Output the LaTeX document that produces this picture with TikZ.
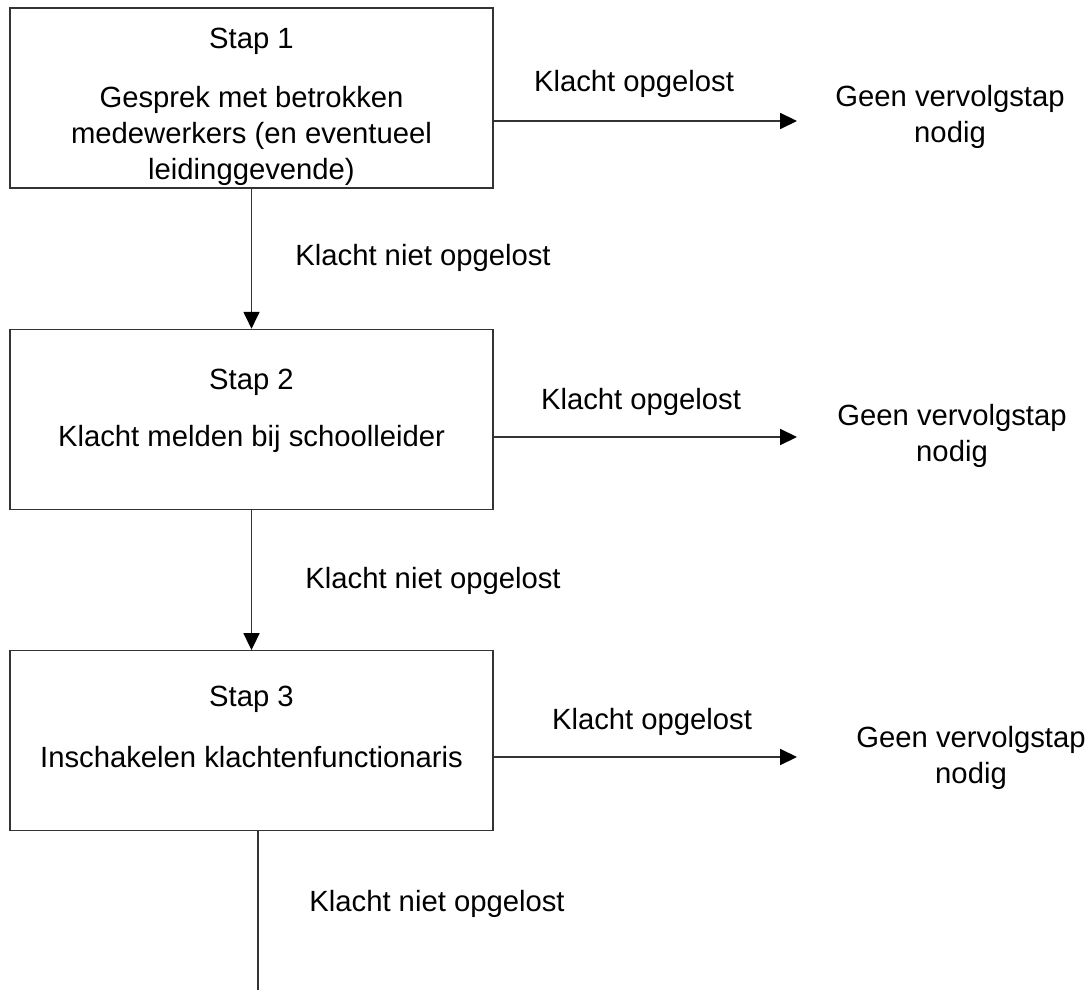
\documentclass[tikz,border=0pt]{standalone}
\usepackage{fontspec}
\setmainfont{Liberation Sans}
\usetikzlibrary{arrows.meta, positioning}
\definecolor{Lijn}{HTML}{333333}
\definecolor{Tekst}{HTML}{000000}

\begin{document}
\begin{tikzpicture}[
          x=0.025cm, y=-0.025cm,
          stapbox/.style={rectangle, draw=Lijn, line width=0.9pt, inner sep=0pt,
                        minimum width=12.075cm, minimum height=4.5cm},
          tekst/.style={font=\fontsize{20.8}{25.6}\selectfont, align=center,
                        inner sep=0pt, text=Tekst},
          arr/.style={-{Triangle[length=0.42cm, width=0.4cm, color=black]}, line width=0.9pt, color=Lijn},
          lijn/.style={line width=0.9pt, color=Lijn},
          node distance=3.5cm
        ]
          \useasboundingbox (0,0) rectangle (1089,990);
          % boxes
          \node[stapbox] (stap1) at (251.5,98) {};
          \node[stapbox, below=of stap1] (stap2) {};
          \node[stapbox, below=of stap2] (stap3) {};
          % box texts
          \node[tekst, anchor=base] (kop1) at (251.5,49) {Stap 1};
          \node[tekst, anchor=north] (oms1) at (251.5,86) {Gesprek met betrokken\\medewerkers (en eventueel\\leidinggevende)};
          \node[tekst, anchor=base] (kop2) at (251.5,389) {Stap 2};
          \node[tekst, anchor=base] (oms2) at (251.5,446) {Klacht melden bij schoolleider};
          \node[tekst, anchor=base] (kop3) at (251.5,706) {Stap 3};
          \node[tekst, anchor=base] (oms3) at (251.5,767) {Inschakelen klachtenfunctionaris};
          % right side
          \coordinate (pijl1) at (797,121);
          \coordinate (pijl2) at (797,437);
          \coordinate (pijl3) at (797,757);
          \node[tekst, anchor=base] (opg1) at (634,92) {Klacht opgelost};
          \node[tekst, anchor=base] (opg2) at (641,409) {Klacht opgelost};
          \node[tekst, anchor=base] (opg3) at (652,729) {Klacht opgelost};
          \node[tekst, anchor=north] (geen1) at (950,85) {Geen vervolgstap\\nodig};
          \node[tekst, anchor=north] (geen2) at (952,404) {Geen vervolgstap\\nodig};
          \node[tekst, anchor=north] (geen3) at (971,726) {Geen vervolgstap\\nodig};
          % down labels
          \node[tekst, anchor=base] (niet1) at (423,266) {Klacht niet opgelost};
          \node[tekst, anchor=base] (niet2) at (433,588) {Klacht niet opgelost};
          \node[tekst, anchor=base] (niet3) at (437,911) {Klacht niet opgelost};
          \coordinate (einde) at (258,990);
          % connectors
          \draw[arr] (stap1) -- (stap2); \draw[arr] (stap2) -- (stap3);
          \draw[lijn] (stap3.south -| einde) -- (einde);
          \draw[arr] (stap1.east |- pijl1) -- (pijl1);
          \draw[arr] (stap2.east |- pijl2) -- (pijl2);
          \draw[arr] (stap3.east |- pijl3) -- (pijl3);
        \end{tikzpicture}
\end{document}
